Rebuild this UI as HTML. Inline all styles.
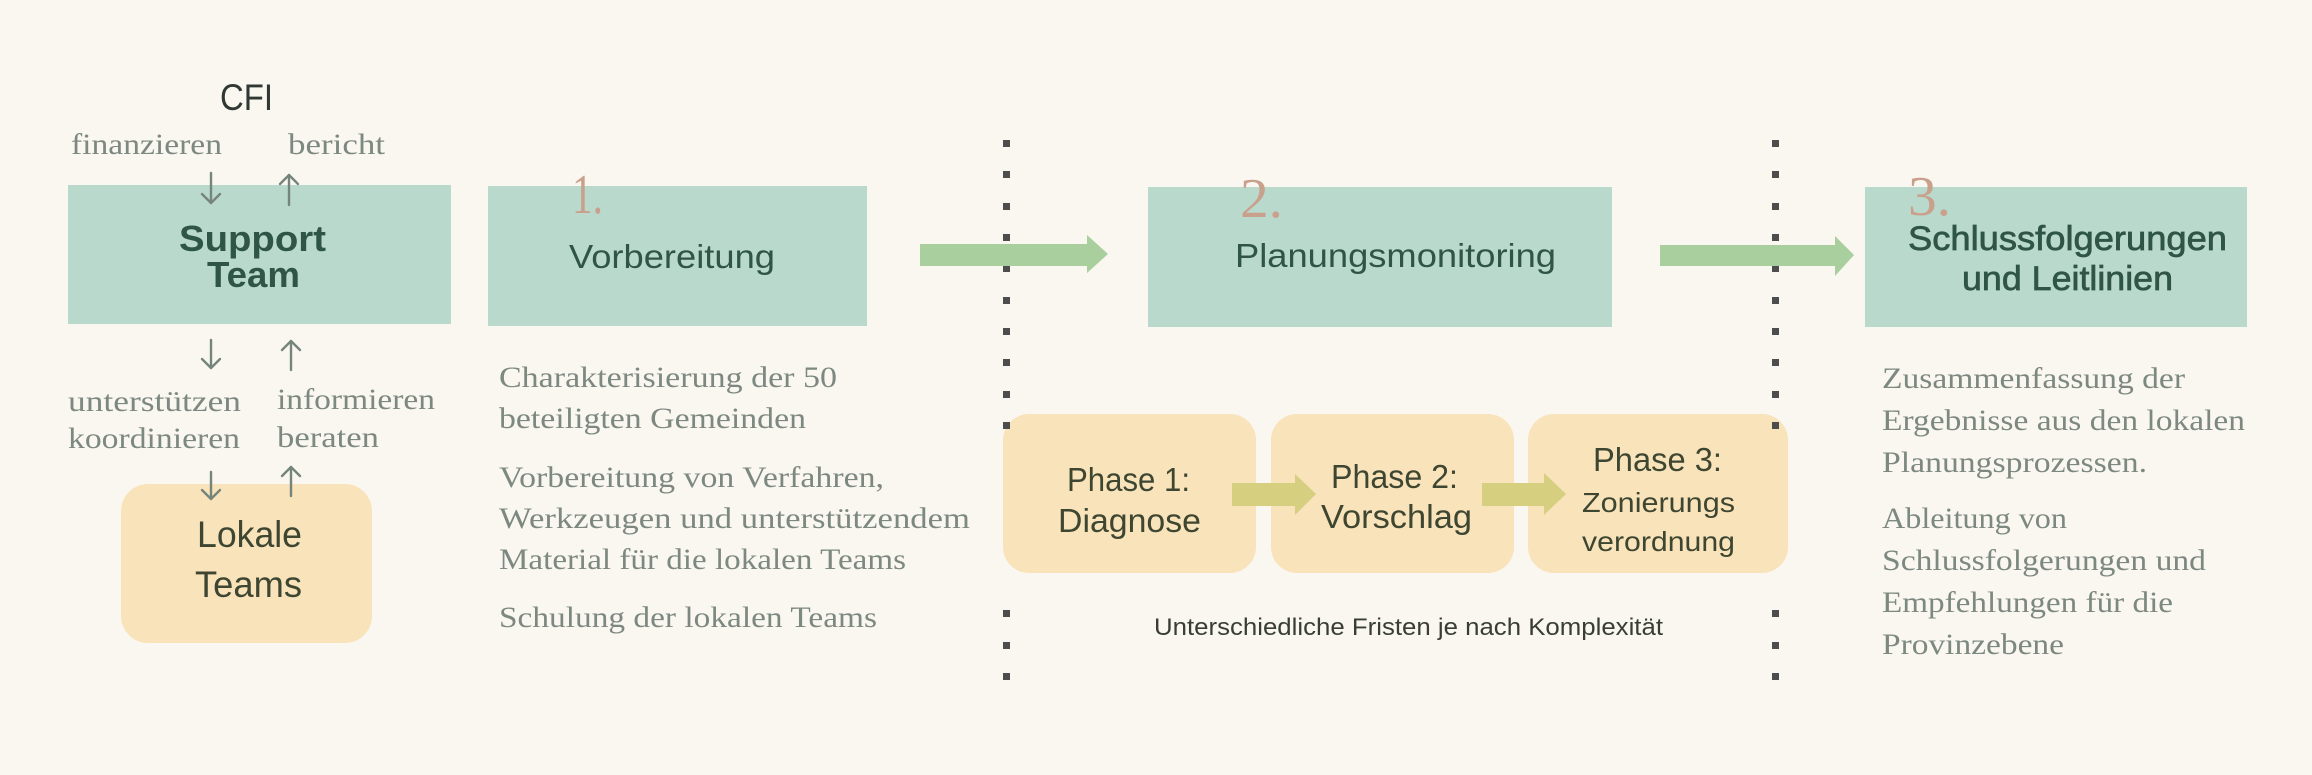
<!DOCTYPE html>
<html><head><meta charset="utf-8"><style>
html,body{margin:0;padding:0;background:#faf7f1;}
svg{display:block;}
.sv{font-family:"Liberation Sans",sans-serif;}
.sf{font-family:"Liberation Serif",serif;}
</style></head><body>
<svg width="2312" height="775" viewBox="0 0 2312 775" xmlns="http://www.w3.org/2000/svg">
<rect width="2312" height="775" fill="#faf7f1"/>

<!-- dotted lines -->
<g fill="#4d4d4d">
  <rect x="1003" y="140" width="7" height="7"/><rect x="1003" y="171" width="7" height="7"/><rect x="1003" y="203" width="7" height="7"/><rect x="1003" y="234" width="7" height="7"/><rect x="1003" y="265" width="7" height="7"/><rect x="1003" y="297" width="7" height="7"/><rect x="1003" y="328" width="7" height="7"/><rect x="1003" y="359" width="7" height="7"/><rect x="1003" y="391" width="7" height="7"/>
  <rect x="1003" y="610" width="7" height="7"/><rect x="1003" y="642" width="7" height="7"/><rect x="1003" y="673" width="7" height="7"/>
  <rect x="1772" y="140" width="7" height="7"/><rect x="1772" y="171" width="7" height="7"/><rect x="1772" y="203" width="7" height="7"/><rect x="1772" y="234" width="7" height="7"/><rect x="1772" y="265" width="7" height="7"/><rect x="1772" y="297" width="7" height="7"/><rect x="1772" y="328" width="7" height="7"/><rect x="1772" y="359" width="7" height="7"/><rect x="1772" y="391" width="7" height="7"/>
  <rect x="1772" y="610" width="7" height="7"/><rect x="1772" y="642" width="7" height="7"/><rect x="1772" y="673" width="7" height="7"/>
</g>

<!-- teal boxes -->
<rect x="68" y="185" width="383" height="139" fill="#b9d9cd"/>
<rect x="488" y="186" width="379" height="140" fill="#b9d9cd"/>
<rect x="1148" y="187" width="464" height="140" fill="#b9d9cd"/>
<rect x="1865" y="187" width="382" height="140" fill="#b9d9cd"/>

<!-- peach boxes -->
<rect x="121" y="484" width="251" height="159" rx="27" fill="#f8e3ba"/>
<rect x="1003" y="414" width="253" height="159" rx="26" fill="#f8e3ba"/>
<rect x="1271" y="414" width="243" height="159" rx="26" fill="#f8e3ba"/>
<rect x="1528" y="414" width="260" height="159" rx="26" fill="#f8e3ba"/>

<!-- dots over phase boxes -->
<rect x="1003" y="422" width="7" height="7" fill="#4d4d4d"/>
<rect x="1772" y="422" width="7" height="7" fill="#4d4d4d"/>

<!-- big green arrows -->
<polygon points="920,244 1087,244 1087,235 1108,254 1087,273 1087,266 920,266" fill="#a8cf9d"/>
<polygon points="1660,245 1835,245 1835,236 1854,255 1835,276 1835,266 1660,266" fill="#a8cf9d"/>

<!-- olive arrows -->
<polygon points="1232,483 1295,483 1295,474 1316,494 1295,515 1295,506 1232,506" fill="#d6cf80"/>
<polygon points="1482,483 1544,483 1544,473 1566,494 1544,515 1544,506 1482,506" fill="#d6cf80"/>

<!-- thin arrows left -->
<g stroke="#76857c" stroke-width="2.4" fill="none" stroke-linecap="round" stroke-linejoin="round">
  <line x1="211" y1="173" x2="211" y2="203"/><polyline points="202,194 211,203 220,194"/>
  <line x1="289" y1="175" x2="289" y2="205"/><polyline points="280,184 289,175 298,184"/>
  <line x1="211" y1="340" x2="211" y2="368"/><polyline points="202,359 211,368 220,359"/>
  <line x1="291" y1="341" x2="291" y2="370"/><polyline points="282,350 291,341 300,350"/>
  <line x1="211" y1="472" x2="211" y2="499"/><polyline points="202,490 211,499 220,490"/>
  <line x1="291" y1="467" x2="291" y2="496"/><polyline points="282,476 291,467 300,476"/>
</g>

<!-- CFI and labels -->
<text class="sv" x="220" y="110" font-size="37" fill="#2f3833" textLength="53" lengthAdjust="spacingAndGlyphs">CFI</text>
<g class="sf" font-size="30" fill="#7c8880">
  <text x="71" y="154" textLength="151" lengthAdjust="spacingAndGlyphs">finanzieren</text>
  <text x="288" y="154" textLength="97" lengthAdjust="spacingAndGlyphs">bericht</text>
  <text x="68" y="411" textLength="173" lengthAdjust="spacingAndGlyphs">unterstützen</text>
  <text x="68" y="448" textLength="172" lengthAdjust="spacingAndGlyphs">koordinieren</text>
  <text x="277" y="409" textLength="158" lengthAdjust="spacingAndGlyphs">informieren</text>
  <text x="277" y="447" textLength="102" lengthAdjust="spacingAndGlyphs">beraten</text>
</g>

<!-- Support Team -->
<g class="sv" font-size="36" font-weight="bold" fill="#2f5547">
  <text x="179" y="251" textLength="147" lengthAdjust="spacingAndGlyphs">Support</text>
  <text x="207" y="287" textLength="93" lengthAdjust="spacingAndGlyphs">Team</text>
</g>

<!-- Lokale Teams -->
<g class="sv" font-size="37" fill="#3e4631">
  <text x="197" y="547" textLength="105" lengthAdjust="spacingAndGlyphs">Lokale</text>
  <text x="195" y="597" textLength="107" lengthAdjust="spacingAndGlyphs">Teams</text>
</g>

<!-- numbers -->
<g class="sf" font-size="56" fill="#c9a08b">
  <text x="572" y="213" textLength="31" lengthAdjust="spacingAndGlyphs">1.</text>
  <text x="1240" y="217" textLength="43" lengthAdjust="spacingAndGlyphs">2.</text>
  <text x="1908" y="215" textLength="43" lengthAdjust="spacingAndGlyphs">3.</text>
</g>

<!-- headings -->
<g class="sv" font-size="33" fill="#2f5547">
  <text x="569" y="268" textLength="206" lengthAdjust="spacingAndGlyphs">Vorbereitung</text>
  <text x="1235" y="267" textLength="321" lengthAdjust="spacingAndGlyphs">Planungsmonitoring</text>
</g>
<g class="sv" font-size="34" fill="#2f5547" stroke="#2f5547" stroke-width="0.7">
  <text x="1908" y="250" textLength="319" lengthAdjust="spacingAndGlyphs">Schlussfolgerungen</text>
  <text x="1962" y="290" textLength="211" lengthAdjust="spacingAndGlyphs">und Leitlinien</text>
</g>

<!-- body text col 1 -->
<g class="sf" font-size="30" fill="#7c8880">
  <text x="499" y="387" textLength="338" lengthAdjust="spacingAndGlyphs">Charakterisierung der 50</text>
  <text x="499" y="428" textLength="307" lengthAdjust="spacingAndGlyphs">beteiligten Gemeinden</text>
  <text x="499" y="487" textLength="385" lengthAdjust="spacingAndGlyphs">Vorbereitung von Verfahren,</text>
  <text x="499" y="528" textLength="471" lengthAdjust="spacingAndGlyphs">Werkzeugen und unterstützendem</text>
  <text x="499" y="569" textLength="407" lengthAdjust="spacingAndGlyphs">Material für die lokalen Teams</text>
  <text x="499" y="627" textLength="378" lengthAdjust="spacingAndGlyphs">Schulung der lokalen Teams</text>
</g>

<!-- body text col 3 -->
<g class="sf" font-size="30" fill="#7c8880">
  <text x="1882" y="388" textLength="303" lengthAdjust="spacingAndGlyphs">Zusammenfassung der</text>
  <text x="1882" y="430" textLength="363" lengthAdjust="spacingAndGlyphs">Ergebnisse aus den lokalen</text>
  <text x="1882" y="472" textLength="265" lengthAdjust="spacingAndGlyphs">Planungsprozessen.</text>
  <text x="1882" y="528" textLength="185" lengthAdjust="spacingAndGlyphs">Ableitung von</text>
  <text x="1882" y="570" textLength="324" lengthAdjust="spacingAndGlyphs">Schlussfolgerungen und</text>
  <text x="1882" y="612" textLength="291" lengthAdjust="spacingAndGlyphs">Empfehlungen für die</text>
  <text x="1882" y="654" textLength="182" lengthAdjust="spacingAndGlyphs">Provinzebene</text>
</g>

<!-- phase texts -->
<g class="sv" font-size="33" fill="#3e4631">
  <text x="1067" y="491" textLength="123" lengthAdjust="spacingAndGlyphs">Phase 1:</text>
  <text x="1058" y="532" textLength="143" lengthAdjust="spacingAndGlyphs">Diagnose</text>
  <text x="1331" y="488" textLength="127" lengthAdjust="spacingAndGlyphs">Phase 2:</text>
  <text x="1321" y="528" textLength="151" lengthAdjust="spacingAndGlyphs">Vorschlag</text>
  <text x="1593" y="471" textLength="129" lengthAdjust="spacingAndGlyphs">Phase 3:</text>
</g>
<g class="sv" font-size="28" fill="#3e4631">
  <text x="1582" y="512" textLength="153" lengthAdjust="spacingAndGlyphs">Zonierungs</text>
  <text x="1582" y="551" textLength="153" lengthAdjust="spacingAndGlyphs">verordnung</text>
</g>

<text class="sv" x="1154" y="635" font-size="24" fill="#383e36" textLength="509" lengthAdjust="spacingAndGlyphs">Unterschiedliche Fristen je nach Komplexität</text>
</svg>
</body></html>
